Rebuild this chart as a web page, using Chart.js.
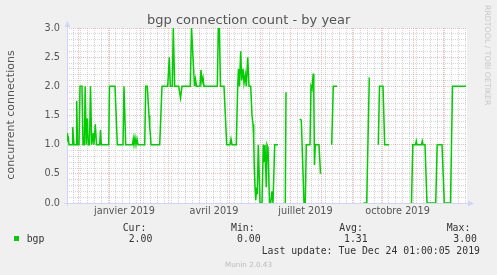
<!DOCTYPE html>
<html><head><meta charset="utf-8">
<script src="https://cdn.jsdelivr.net/npm/chart.js@4.4.1/dist/chart.umd.min.js"></script>
<style>html,body{margin:0;padding:0;background:#f0f0f0;}canvas{display:block;}</style>
</head><body>
<canvas id="c" width="497" height="275"></canvas>
<script>
const chartTitle = 'bgp connection count - by year';
const yAxisTitle = 'concurrent connections';
const seriesName = 'bgp';
const seriesColor = '#00CC00';

// x = days since 2018-11-20 (graph spans 400 days); null = no data
const days = [
  0,0.5,1,2,5,5.7,7,9,9.7,10.5,12,13,15,16,17.3,18.2,19.2,20.3,21.3,22.5,23.5,24.7,26.3,27,28.3,29.5,32.7,33.5,34.3,
  41.7,42.5,48,50.3,56,57,58.7,65.5,66.3,67,68,69,70,71,77.7,78.7,80.3,82,82.7,83.3,84,
  92.7,95,100.7,102.3,103.3,105.3,106.3,107.7,111.7,113.5,115,123.3,124.5,127.5,128.5,129.5,
  133,134,135,136,137,150.3,151.3,152.3,153.5,157,159.7,163,164,165,169.3,170.7,171.5,172.5,
  173.7,174.7,176,177,178.3,179.3,180.7,182,183.7,185,186,186.7,187.3,188,188.7,189.7,190.3,
  191.3,192,193,195,196.3,197.3,198,199.3,200,201,202.5,203.7,205,206,207.7,211,214.5,
  218.3,219,226,232.7,234.3,237,238.3,239.3,243,244,245,246.2,246.8,247.5,248.3,252,253.5,258,
  264.7,266.3,270,283,296.5,299.7,302.3,306,311.3,312.5,316,317.7,322,333,
  343.7,344.5,345.8,348.5,349.3,350,354.5,355.3,356,358,360,368.7,370.2,375,377.3,383.5,385.5,399
];
const connections = [
  1.2,1.05,1.15,1.0,1.0,1.3,1.0,1.0,1.75,1.0,1.0,2.0,2.0,1.0,1.0,2.0,1.0,1.45,1.0,1.0,2.0,1.0,1.2,1.0,1.35,1.0,1.0,1.25,1.0,
  1.0,2.0,2.0,1.0,1.0,2.0,1.0,1.0,1.1,1.0,1.12,1.0,1.1,1.0,1.0,2.0,2.0,1.5,1.3,1.2,1.0,
  1.0,2.0,2.0,2.5,2.0,2.0,3.0,2.0,2.0,1.8,2.0,2.0,3.0,2.0,2.12,2.0,
  2.0,2.28,2.07,2.15,2.0,2.0,3.0,3.0,2.0,2.0,1.0,1.0,1.1,1.0,1.0,2.0,2.3,2.0,
  2.6,2.1,2.3,2.05,2.2,2.0,2.5,2.0,2.0,1.5,1.35,1.1,0.6,0.27,0.05,0.25,0.15,
  1.0,0.6,0.0,0.0,1.0,0.7,1.0,0.27,1.0,0.95,0.0,0.0,0.2,0.0,1.0,1.0,null,
  0.0,1.9,null,1.44,1.42,0.0,0.0,1.0,1.0,2.0,1.95,2.22,1.9,0.65,1.0,1.0,0.5,null,
  1.0,2.0,2.0,null,0.0,0.0,2.15,null,1.0,2.0,2.0,1.0,1.0,null,
  0.0,0.0,1.0,1.0,1.06,1.0,1.0,1.06,1.0,1.0,0.0,0.0,1.0,1.0,0.0,0.0,2.0,2.0
];

const monthStartDays = [11,42,73,101,132,162,193,223,254,285,315,346,376];
const tickLabelDays = [57.5,147,238.5,330.5];
const tickLabels = ['janvier 2019','avril 2019','juillet 2019','octobre 2019'];
const statLabels = ['Cur:','Min:','Avg:','Max:'];
const statValues = ['2.00','0.00','1.31','3.00'];
const lastUpdate = 'Last update: Tue Dec 24 01:00:05 2019';
const footer = 'Munin 2.0.43';
const sideText = 'RRDTOOL / TOBI OETIKER';

const RED = 'rgba(225,110,110,0.45)';
const GREY = 'rgba(150,150,150,0.38)';
const AXIS = '#CFD6F8';

const points = days.map((d, i) => ({x: d, y: connections[i]}));

const weekDays = [];
for (let d = 6; d < 400; d += 7) if (!monthStartDays.includes(d)) weekDays.push(d);

const munin = {
  id: 'munin',
  beforeDraw(chart) {
    const c = chart.ctx, a = chart.chartArea;
    c.save();
    c.fillStyle = '#f0f0f0'; c.fillRect(0, 0, chart.width, chart.height);
    c.fillStyle = '#ffffff'; c.fillRect(a.left, a.top, a.right - a.left, a.bottom - a.top);
    c.restore();
  },
  beforeDatasetsDraw(chart) {
    const c = chart.ctx, a = chart.chartArea;
    c.save();
    c.strokeStyle = AXIS; c.fillStyle = AXIS; c.lineWidth = 1;
    c.beginPath();
    c.moveTo(a.left - 3, a.bottom + 0.5); c.lineTo(a.right + 2, a.bottom + 0.5);
    c.moveTo(a.left + 0.5, a.bottom + 3); c.lineTo(a.left + 0.5, a.top - 2);
    c.stroke();
    c.beginPath();
    c.moveTo(a.right + 1, a.bottom - 2.5); c.lineTo(a.right + 7, a.bottom + 0.5); c.lineTo(a.right + 1, a.bottom + 3.5); c.closePath(); c.fill();
    c.beginPath();
    c.moveTo(a.left - 2.5, a.top - 1); c.lineTo(a.left + 0.5, a.top - 7); c.lineTo(a.left + 3.5, a.top - 1); c.closePath(); c.fill();
    c.restore();
  },
  afterDraw(chart) {
    const c = chart.ctx;
    c.save();
    c.fillStyle = '#555';
    c.font = '13px "DejaVu Sans"';
    c.textAlign = 'center'; c.textBaseline = 'alphabetic';
    c.fillText(chartTitle, 248.7, 24);

    c.save();
    c.translate(11.2, 115); c.rotate(-Math.PI / 2);
    c.font = '11px "DejaVu Sans"'; c.textAlign = 'center'; c.textBaseline = 'middle';
    c.fillText(yAxisTitle, 0, 0);
    c.restore();

    c.save();
    c.translate(487.5, 5); c.rotate(Math.PI / 2);
    c.font = '7.8px "DejaVu Sans"'; c.fillStyle = '#c8c8c8'; c.textAlign = 'left'; c.textBaseline = 'middle';
    c.fillText(sideText, 0, 0);
    c.restore();

    c.fillStyle = seriesColor;
    c.fillRect(14, 236, 5, 5);
    c.fillStyle = '#333';
    c.font = '9.8px "DejaVu Sans Mono"';
    c.textAlign = 'left'; c.textBaseline = 'alphabetic';
    c.fillText(seriesName, 26.7, 242);
    const labelX = [122.7, 231, 339.3, 446.7];
    const valueX = [128.7, 237, 344, 453.3];
    statLabels.forEach((s, i) => c.fillText(s, labelX[i], 231));
    statValues.forEach((s, i) => c.fillText(s, valueX[i], 242));
    c.fillText(lastUpdate, 261.7, 254);

    c.fillStyle = '#bbb';
    c.font = '7.2px "DejaVu Sans"';
    c.textAlign = 'center';
    c.fillText(footer, 248.5, 266.5);
    c.restore();
  }
};

new Chart(document.getElementById('c'), {
  type: 'line',
  data: {
    datasets: [{
      label: seriesName,
      data: points,
      borderColor: seriesColor,
      borderWidth: 1.5,
      pointRadius: 0,
      tension: 0,
      spanGaps: false,
      fill: false
    }]
  },
  options: {
    responsive: false,
    animation: false,
    layout: {padding: {left: 0, top: 28, right: 30, bottom: 0}},
    plugins: {legend: {display: false}, tooltip: {enabled: false}, title: {display: false}},
    scales: {
      x: {
        type: 'linear', min: 0, max: 400,
        afterFit(s) { s.height = 72; },
        afterBuildTicks(s) {
          const t = [];
          monthStartDays.forEach(v => t.push({value: v}));
          weekDays.forEach(v => t.push({value: v}));
          tickLabelDays.forEach(v => t.push({value: v}));
          t.sort((a, b) => a.value - b.value);
          s.ticks = t;
        },
        ticks: {
          autoSkip: false, maxRotation: 0, padding: 3,
          color: '#555', font: {family: 'DejaVu Sans', size: 9.7},
          callback(v) { const i = tickLabelDays.indexOf(v); return i >= 0 ? tickLabels[i] : ''; }
        },
        grid: {
          drawTicks: false,
          lineWidth: 1,
          color(ctx) {
            const v = ctx.tick ? ctx.tick.value : null;
            if (tickLabelDays.includes(v)) return 'rgba(0,0,0,0)';
            if (monthStartDays.includes(v)) return RED;
            return GREY;
          }
        },
        border: {display: false, dash: [1, 1]}
      },
      y: {
        type: 'linear', min: 0, max: 3,
        afterFit(s) { s.width = 67; },
        ticks: {
          stepSize: 0.1, autoSkip: false, maxTicksLimit: 100, padding: 7,
          color: '#555', font: {family: 'DejaVu Sans', size: 9.7},
          callback(v) { return Math.round(v * 10) % 5 === 0 ? v.toFixed(1) : ''; }
        },
        grid: {
          drawTicks: false,
          lineWidth: 1,
          color(ctx) {
            const v = ctx.tick ? ctx.tick.value : 0;
            return Math.round(v * 10) % 5 === 0 ? RED : GREY;
          }
        },
        border: {display: false, dash: [1, 1]}
      }
    }
  },
  plugins: [munin]
});
</script>
</body></html>
